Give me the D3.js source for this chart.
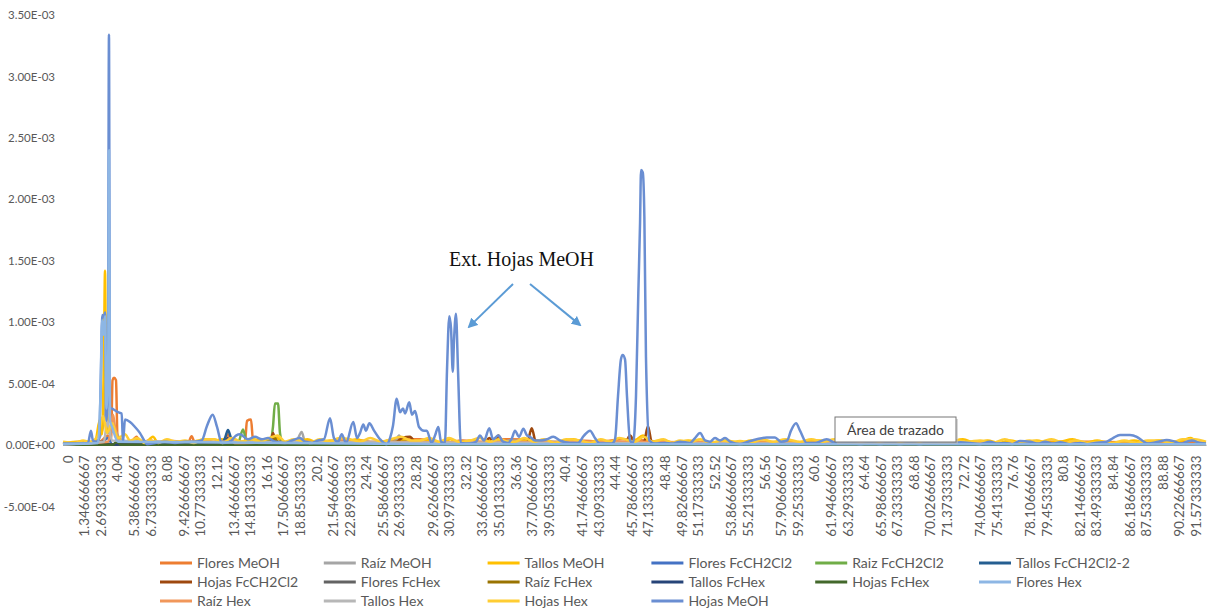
<!DOCTYPE html>
<html>
<head>
<meta charset="utf-8">
<script src="https://cdn.jsdelivr.net/npm/d3@7"></script>
<style>
  html, body { margin: 0; padding: 0; background: #fff; }
  svg { display: block; font-family: Lato, "Open Sans", sans-serif; }
</style>
</head>
<body>
<svg id="chart" width="1211" height="611"></svg>
<script>
// Retention time labels on the category axis (minutes)
const xTickLabels = ["0","1.346666667","2.693333333","4.04","5.386666667","6.733333333","8.08","9.426666667","10.77333333","12.12","13.46666667","14.81333333","16.16","17.50666667","18.85333333","20.2","21.54666667","22.89333333","24.24","25.58666667","26.93333333","28.28","29.62666667","30.97333333","32.32","33.66666667","35.01333333","36.36","37.70666667","39.05333333","40.4","41.74666667","43.09333333","44.44","45.78666667","47.13333333","48.48","49.82666667","51.17333333","52.52","53.86666667","55.21333333","56.56","57.90666667","59.25333333","60.6","61.94666667","63.29333333","64.64","65.98666667","67.33333333","68.68","70.02666667","71.37333333","72.72","74.06666667","75.41333333","76.76","78.10666667","79.45333333","80.8","82.14666667","83.49333333","84.84","86.18666667","87.53333333","88.88","90.22666667","91.57333333"];

// Intensity ticks, in units of 1E-04
const yTicks = [-5, 0, 5, 10, 15, 20, 25, 30, 35];

// Each series: [time (min), intensity (x1E-04)]
const floresMeOH = [[-0.43,0.1],[1.0,0.3],[1.76,0.15],[2.57,0.3],[3.22,0.8],[3.47,0.4],[3.59,5.3],[3.71,5.5],[3.87,5.3],[3.99,0.8],[4.36,0.4],[5.0,0.2],[5.55,0.7],[5.82,0.2],[6.6,0.4],[7.44,0.2],[8.5,0.35],[9.71,0.2],[10.01,0.75],[10.28,0.2],[11.3,0.4],[12.0,0.2],[12.64,0.3],[12.96,0.9],[13.28,0.3],[14.34,0.3],[14.50,2.0],[14.83,2.1],[14.99,0.4],[15.7,0.3],[16.37,0.4],[17.2,0.2],[17.98,0.2],[19.0,0.4],[20.3,0.2],[21.8,0.4],[23.67,0.4],[25.0,0.2],[26.5,0.5],[28.54,0.5],[30.5,0.2],[32.0,0.4],[33.41,0.3],[35.5,0.5],[38.28,0.4],[40.0,0.2],[41.5,0.4],[43.15,0.3],[45.0,0.5],[46.7,0.4],[48.02,0.3],[50.5,0.2],[52.89,0.2],[56.0,0.3],[59.38,0.2],[63.0,0.3],[67.49,0.2],[71.0,0.3],[75.61,0.2],[79.5,0.3],[83.72,0.3],[87.0,0.2],[90.0,0.3],[92.33,0.2]];
const raizMeOH = [[-0.43,0.1],[2.17,0.2],[2.82,1.5],[3.12,6.2],[3.22,1.0],[3.79,1.2],[4.20,0.5],[5.01,0.3],[10.69,0.2],[18.48,0.3],[18.94,1.1],[19.21,0.3],[26.51,0.3],[26.84,0.8],[27.16,0.3],[35.04,0.2],[35.84,0.4],[43.15,0.2],[59.38,0.2],[75.61,0.15],[92.33,0.1]];
const tallosMeOH = [[-0.43,0.2],[0.95,0.3],[2.17,0.3],[2.57,2.1],[2.73,0.9],[2.90,8.0],[2.98,14.2],[3.06,6.0],[3.22,1.2],[3.63,1.6],[3.87,0.9],[4.28,0.4],[4.9,0.2],[5.58,0.5],[6.22,0.2],[6.87,0.7],[7.28,0.2],[8.0,0.4],[8.66,0.3],[9.6,0.2],[10.69,0.4],[11.6,0.2],[12.4,0.5],[13.12,0.3],[14.0,0.2],[15.0,0.5],[16.0,0.3],[16.86,0.7],[17.34,0.3],[18.3,0.2],[19.4,0.5],[20.3,0.2],[21.24,0.4],[22.3,0.2],[23.4,0.5],[24.4,0.2],[25.30,0.3],[26.3,0.2],[27.4,0.5],[28.4,0.2],[29.5,0.4],[30.3,0.2],[31.00,0.5],[31.79,0.2],[32.7,0.4],[33.7,0.2],[34.79,0.5],[35.7,0.2],[36.66,0.3],[37.6,0.5],[38.7,0.2],[39.90,0.3],[41.0,0.5],[42.0,0.2],[43.0,0.4],[43.96,0.3],[45.0,0.2],[46.0,0.4],[46.64,0.8],[47.21,0.3],[48.2,0.4],[49.3,0.2],[50.3,0.4],[51.27,0.3],[52.3,0.2],[53.4,0.4],[54.5,0.2],[55.4,0.4],[56.14,0.3],[57.2,0.2],[58.2,0.4],[59.4,0.2],[60.2,0.4],[61.01,0.4],[62.1,0.2],[63.1,0.3],[64.3,0.2],[65.87,0.3],[67.0,0.5],[68.2,0.2],[69.4,0.4],[70.4,0.2],[71.56,0.3],[72.6,0.5],[73.6,0.2],[74.6,0.4],[75.5,0.2],[76.42,0.4],[77.5,0.2],[78.6,0.4],[79.5,0.2],[80.48,0.3],[81.5,0.5],[82.5,0.2],[83.5,0.4],[84.4,0.2],[85.35,0.2],[86.5,0.4],[87.5,0.2],[88.5,0.4],[89.5,0.2],[90.4,0.4],[91.11,0.6],[91.7,0.2],[92.33,0.2]];
const floresFcCH2Cl2 = [[-0.43,0.05],[2.57,0.1],[3.22,0.6],[3.55,0.1],[30.0,0.1],[60.0,0.05],[92.33,0.05]];
const raizFcCH2Cl2 = [[-0.43,0.05],[5.82,0.1],[13.77,0.2],[14.18,1.3],[14.50,0.2],[16.37,0.3],[16.61,1.5],[16.77,3.4],[17.02,3.4],[17.18,1.0],[17.42,0.2],[18.80,0.15],[43.15,0.1],[92.33,0.05]];
const tallosFcCH2Cl2_2 = [[-0.43,0.05],[12.31,0.1],[12.72,0.6],[12.96,1.25],[13.20,0.6],[13.53,0.1],[92.33,0.05]];
const hojasFcCH2Cl2 = [[-0.43,0.05],[16.37,0.1],[16.61,1.0],[16.86,0.2],[26.51,0.2],[27.08,0.6],[27.73,0.7],[28.22,0.2],[33.74,0.2],[34.17,0.6],[34.58,0.2],[34.90,0.8],[35.28,0.2],[37.23,0.2],[37.61,1.4],[37.96,0.2],[45.18,0.2],[45.59,0.8],[46.00,0.2],[46.72,0.3],[47.04,1.55],[47.37,0.2],[92.33,0.05]];
const floresFcHex = [[-0.43,0.05],[2.98,0.3],[3.38,0.05],[17.42,0.3],[17.9,0.05],[92.33,0.05]];
const raizFcHex = [[-0.43,0.05],[16.45,0.1],[16.77,0.6],[17.1,0.1],[27.73,0.3],[28.2,0.05],[92.33,0.05]];
const tallosFcHex = [[-0.43,0.05],[12.7,0.1],[12.96,0.6],[13.3,0.1],[92.33,0.05]];
const hojasFcHex = [[-0.43,0.05],[3.6,0.05],[3.93,0.3],[4.3,0.05],[92.33,0.05]];
const floresHex = [[-0.43,0.1],[2.41,0.2],[2.61,4.0],[2.74,10.2],[2.86,9.0],[2.98,10.5],[3.10,3.0],[3.25,8.0],[3.30,24.0],[3.38,2.0],[3.55,1.5],[4.03,0.3],[30.0,0.1],[92.33,0.1]];
const raizHex = [[-0.43,0.1],[3.22,0.3],[3.38,0.8],[3.63,2.5],[3.79,1.5],[4.20,0.3],[7.44,0.3],[12.8,0.3],[13.12,0.6],[13.5,0.2],[21.0,0.3],[30.0,0.25],[45.0,0.3],[60.0,0.2],[92.33,0.1]];
const tallosHex = [[-0.43,0.1],[2.9,0.3],[3.15,2.0],[3.55,0.4],[10.28,0.3],[40.0,0.2],[92.33,0.1]];
const hojasHex = [[-0.43,0.3],[0.6,0.2],[1.2,0.4],[1.76,0.3],[2.41,0.8],[2.82,2.4],[3.15,1.0],[3.55,1.8],[4.03,0.6],[4.6,0.9],[5.01,0.4],[5.6,0.6],[6.2,0.2],[6.63,0.4],[7.3,0.2],[8.0,0.5],[8.7,0.3],[9.47,0.4],[10.2,0.2],[10.9,0.5],[11.91,0.5],[12.5,0.2],[13.3,0.6],[14.0,0.3],[14.8,0.5],[15.56,0.3],[16.3,0.6],[17.0,0.8],[17.6,0.3],[18.3,0.5],[18.80,0.4],[19.6,0.2],[20.4,0.5],[21.2,0.3],[22.0,0.6],[22.86,0.5],[23.7,0.3],[24.5,0.6],[25.4,0.3],[26.2,0.5],[27.0,0.7],[27.8,0.4],[28.54,0.4],[29.3,0.6],[30.1,0.3],[30.9,0.6],[31.7,0.3],[32.60,0.4],[33.4,0.6],[34.2,0.3],[35.0,0.5],[35.7,0.3],[36.25,0.3],[37.0,0.6],[37.8,0.3],[38.6,0.5],[39.5,0.2],[40.4,0.5],[41.52,0.4],[42.4,0.2],[43.2,0.5],[44.0,0.3],[44.7,0.6],[45.18,0.5],[46.0,0.3],[46.7,0.7],[47.4,0.3],[48.3,0.5],[49.0,0.2],[49.64,0.4],[50.5,0.3],[51.3,0.5],[52.1,0.2],[53.0,0.4],[53.8,0.3],[54.51,0.35],[55.4,0.2],[56.3,0.5],[57.2,0.3],[58.2,0.5],[59.38,0.3],[60.3,0.5],[61.2,0.3],[62.2,0.5],[63.2,0.3],[64.25,0.5],[65.2,0.2],[66.2,0.4],[67.2,0.2],[68.2,0.4],[69.12,0.3],[70.2,0.5],[71.2,0.2],[72.2,0.4],[73.0,0.3],[73.99,0.4],[75.0,0.2],[76.0,0.5],[77.0,0.2],[78.0,0.4],[78.86,0.3],[79.8,0.5],[80.8,0.2],[81.8,0.4],[82.8,0.2],[83.72,0.3],[84.7,0.2],[85.7,0.4],[86.7,0.2],[87.6,0.4],[88.59,0.4],[89.5,0.2],[90.4,0.5],[91.43,0.5],[92.33,0.3]];
const hojasMeOH = [[-0.43,0.15],[0.95,0.15],[1.60,0.2],[1.84,1.2],[2.00,0.4],[2.25,0.3],[2.49,0.5],[2.65,6.0],[2.76,10.6],[2.90,10.4],[2.98,10.8],[3.10,2.0],[3.22,6.0],[3.30,33.4],[3.38,3.0],[3.52,3.0],[3.71,2.9],[4.03,2.7],[4.33,2.6],[4.44,0.3],[4.60,2.1],[5.01,1.9],[5.41,1.5],[5.82,1.0],[6.22,0.3],[6.39,0.1],[7.04,0.2],[7.85,0.3],[8.66,0.2],[9.47,0.3],[10.28,0.3],[10.83,0.4],[11.26,1.6],[11.72,2.5],[12.07,1.5],[12.45,0.2],[13.12,0.3],[13.61,0.8],[13.93,0.9],[14.58,0.5],[15.15,0.7],[15.72,0.5],[16.21,0.6],[16.77,0.3],[17.59,0.2],[18.15,0.4],[18.80,0.6],[19.21,0.3],[19.78,0.2],[20.26,0.4],[20.75,0.5],[21.24,2.2],[21.56,0.6],[21.89,0.3],[22.19,0.9],[22.54,0.2],[23.13,1.9],[23.43,0.6],[23.67,1.0],[23.94,1.7],[24.16,1.2],[24.43,1.8],[24.81,1.2],[25.30,0.5],[25.84,0.1],[26.11,0.6],[26.35,1.6],[26.65,3.8],[26.92,2.7],[27.16,3.0],[27.33,2.6],[27.67,3.5],[27.89,2.5],[28.14,2.8],[28.46,1.5],[28.87,1.2],[29.09,1.2],[29.49,0.2],[29.76,0.8],[30.03,1.5],[30.25,0.3],[30.57,0.2],[30.73,6.0],[30.92,10.5],[31.06,9.5],[31.20,6.0],[31.30,8.5],[31.46,10.7],[31.63,6.0],[31.85,0.2],[32.60,0.15],[33.09,0.3],[33.41,0.8],[33.74,0.4],[34.17,1.4],[34.47,0.5],[34.90,0.8],[35.28,0.3],[35.68,0.2],[36.01,0.6],[36.25,1.2],[36.58,0.7],[36.93,1.35],[37.23,0.8],[37.47,0.7],[37.88,0.4],[38.28,0.4],[38.85,0.5],[39.36,0.7],[39.90,0.4],[40.72,0.2],[41.36,0.2],[41.85,0.8],[42.34,1.2],[42.74,0.6],[43.15,0.15],[44.12,0.15],[44.37,0.5],[44.61,4.0],[44.85,7.0],[44.99,7.35],[45.18,7.0],[45.34,4.0],[45.59,0.4],[45.83,0.2],[46.07,4.0],[46.26,12.4],[46.40,18.1],[46.48,22.4],[46.62,22.2],[46.75,18.6],[46.88,7.2],[47.15,0.4],[47.61,0.15],[48.43,0.2],[48.99,0.15],[49.64,0.3],[50.45,0.2],[50.86,0.6],[51.27,1.0],[51.67,0.4],[52.08,0.3],[52.48,0.6],[52.89,0.4],[53.30,0.6],[53.70,0.3],[54.51,0.1],[55.16,0.3],[55.87,0.5],[56.68,0.65],[57.35,0.65],[57.84,0.3],[58.33,0.4],[58.65,1.2],[59.06,1.8],[59.38,1.2],[59.93,0.2],[60.60,0.2],[61.55,0.5],[62.36,0.15],[63.44,0.2],[64.3,0.1],[65.06,0.2],[65.9,0.1],[66.69,0.25],[67.5,0.1],[68.31,0.2],[69.1,0.1],[69.93,0.3],[70.7,0.15],[71.56,0.15],[72.4,0.25],[73.18,0.2],[74.0,0.1],[74.80,0.3],[75.4,0.15],[76.02,0.2],[76.6,0.1],[77.24,0.35],[78.05,0.3],[78.7,0.15],[79.27,0.3],[79.9,0.15],[80.48,0.25],[81.3,0.1],[82.11,0.2],[82.7,0.1],[83.32,0.2],[84.27,0.3],[84.78,0.6],[85.35,0.85],[86.16,0.85],[86.71,0.7],[87.14,0.4],[87.65,0.15],[88.44,0.3],[89.14,0.45],[89.82,0.3],[90.3,0.15],[90.77,0.3],[91.19,0.4],[91.85,0.2],[92.33,0.15]];

const seriesNames = ["Flores MeOH","Raíz MeOH","Tallos MeOH","Flores FcCH2Cl2","Raiz FcCH2Cl2","Tallos FcCH2Cl2-2","Hojas FcCH2Cl2","Flores FcHex","Raíz FcHex","Tallos FcHex","Hojas FcHex","Flores Hex","Raíz Hex","Tallos Hex","Hojas Hex","Hojas MeOH"];
const seriesColors = ["#ED7D31","#A5A5A5","#FFC000","#4472C4","#70AD47","#255E91","#9E480E","#636363","#997300","#264478","#43682B","#8DB6E4","#F1975A","#B7B7B7","#FFCD33","#6A8ED2"];
const seriesValues = [floresMeOH, raizMeOH, tallosMeOH, floresFcCH2Cl2, raizFcCH2Cl2, tallosFcCH2Cl2_2, hojasFcCH2Cl2, floresFcHex, raizFcHex, tallosFcHex, hojasFcHex, floresHex, raizHex, tallosHex, hojasHex, hojasMeOH];

const series = seriesNames.map((name, i) => ({ name, color: seriesColors[i], values: seriesValues[i] }));

const svg = d3.select("#chart");

const x = d3.scaleLinear().domain([-0.43, 92.41]).range([63, 1207]);
const y = d3.scaleLinear().domain([-5, 35]).range([506.9, 15]);

// Scientific labels like 3.50E-03
const fmt = d3.format(".2e");
function sci(v) {
  const s = fmt(v * 1e-4).replace(/\u2212/g, "-");
  const [m, e] = s.split("e");
  const sign = e.startsWith("-") ? "-" : "+";
  const digits = e.replace(/[+-]/, "").padStart(2, "0");
  return m + "E" + sign + digits;
}

// Y tick labels
svg.append("g").selectAll("text").data(yTicks).join("text")
  .attr("x", 55).attr("y", d => y(d)).attr("dy", "0.35em")
  .attr("text-anchor", "end")
  .attr("font-size", 11.5).attr("fill", "#595959")
  .text(d => sci(d));

// Category axis line at zero
svg.append("line")
  .attr("x1", x.range()[0]).attr("x2", x.range()[1])
  .attr("y1", y(0)).attr("y2", y(0))
  .attr("stroke", "#D9D9D9").attr("stroke-width", 1);

// Rotated time labels
svg.append("g").selectAll("text").data(xTickLabels).join("text")
  .attr("transform", d => `translate(${x(+d) + 4.3},${y(0) + 10}) rotate(-90) scale(1.08,1)`)
  .attr("text-anchor", "end")
  .attr("font-size", 12.5).attr("fill", "#595959")
  .text(d => d);

// Series lines
const line = d3.line().x(d => x(d[0])).y(d => y(d[1])).curve(d3.curveMonotoneX);
const drawOrder = series.filter(s => s.name !== "Flores Hex").concat(series.filter(s => s.name === "Flores Hex"));
svg.append("g").selectAll("path").data(drawOrder).join("path")
  .attr("d", d => line(d.values))
  .attr("fill", "none")
  .attr("stroke", d => d.color)
  .attr("stroke-width", 2.5)
  .attr("stroke-linejoin", "round");

// Annotation pointing at the leaf methanol extract peaks
const annot = { label: "Ext. Hojas MeOH", t: 36.78, v: 14.6 };
const arrows = [
  { from: [36.09, 13.13], to: [32.52, 9.64] },
  { from: [37.47, 13.13], to: [41.52, 9.8] }
];
svg.append("defs").append("marker")
  .attr("id", "arrowHead").attr("viewBox", "0 0 10 10")
  .attr("refX", 8).attr("refY", 5)
  .attr("markerWidth", 5).attr("markerHeight", 5)
  .attr("orient", "auto-start-reverse")
  .append("path").attr("d", "M0,0 L10,5 L0,10 z").attr("fill", "#5B9BD5");

svg.append("text")
  .attr("x", x(annot.t)).attr("y", y(annot.v))
  .attr("text-anchor", "middle")
  .attr("font-family", "'Liberation Serif', 'Times New Roman', serif")
  .attr("font-size", 20).attr("fill", "#111")
  .text(annot.label);

svg.append("g").selectAll("line").data(arrows).join("line")
  .attr("x1", d => x(d.from[0])).attr("y1", d => y(d.from[1]))
  .attr("x2", d => x(d.to[0])).attr("y2", d => y(d.to[1]))
  .attr("stroke", "#5B9BD5").attr("stroke-width", 2)
  .attr("marker-end", "url(#arrowHead)");

// Hover tip over the plot area
const tip = svg.append("g").attr("transform", "translate(835,417)");
tip.append("rect").attr("x", 2).attr("y", 2).attr("width", 121).attr("height", 25).attr("fill", "#bdbdbd").attr("opacity", 0.6);
tip.append("rect").attr("width", 121).attr("height", 25).attr("fill", "#fff").attr("stroke", "#767676");
tip.append("text").attr("x", 12).attr("y", 17.5).attr("font-size", 14).attr("fill", "#404040").text("Área de trazado");

// Legend: six columns, three rows
const legend = svg.append("g");
const item = legend.selectAll("g").data(series).join("g")
  .attr("transform", (d, i) => `translate(${160 + (i % 6) * 163.8},${563 + Math.floor(i / 6) * 19})`);
item.append("line").attr("x1", 0).attr("x2", 32).attr("y1", 0).attr("y2", 0)
  .attr("stroke", d => d.color).attr("stroke-width", 3);
item.append("text").attr("x", 37).attr("y", 0).attr("dy", "0.35em")
  .attr("font-size", 14).attr("fill", "#595959").text(d => d.name);
</script>
</body>
</html>
